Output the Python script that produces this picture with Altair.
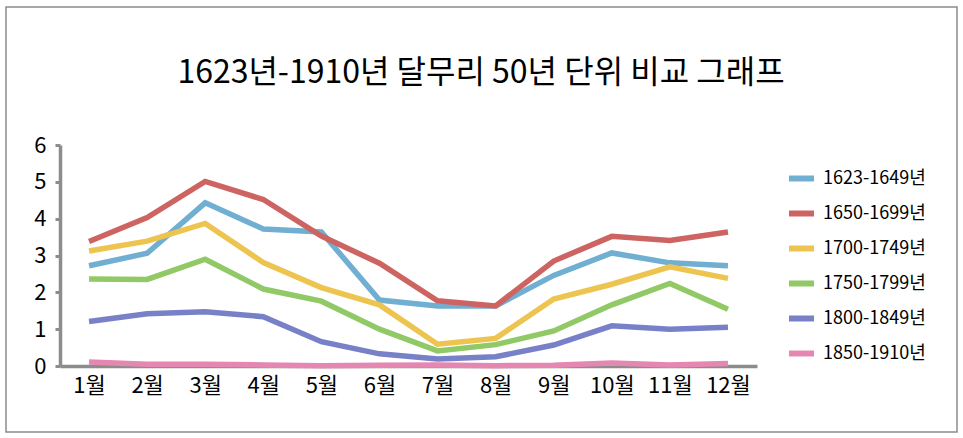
import altair as alt
import pandas as pd

months = ["1월", "2월", "3월", "4월", "5월", "6월", "7월", "8월", "9월", "10월", "11월", "12월"]
series = ["1623-1649년", "1650-1699년", "1700-1749년", "1750-1799년", "1800-1849년", "1850-1910년"]
colors = ["#70AFD2", "#CE6462", "#EDC450", "#90C965", "#7880C8", "#E687B1"]
title_text = "1623년-1910년 달무리 50년 단위 비교 그래프"

s1623 = [2.72, 3.06, 4.43, 3.72, 3.64, 1.79, 1.63, 1.63, 2.46, 3.07, 2.80, 2.72]
s1650 = [3.38, 4.03, 5.01, 4.52, 3.53, 2.79, 1.77, 1.63, 2.85, 3.52, 3.41, 3.64]
s1700 = [3.12, 3.39, 3.87, 2.81, 2.13, 1.66, 0.59, 0.75, 1.82, 2.22, 2.69, 2.38]
s1750 = [2.36, 2.35, 2.90, 2.09, 1.76, 1.00, 0.41, 0.58, 0.95, 1.66, 2.24, 1.54]
s1800 = [1.21, 1.42, 1.47, 1.34, 0.66, 0.33, 0.19, 0.25, 0.57, 1.09, 1.00, 1.05]
s1850 = [0.11, 0.05, 0.05, 0.03, 0.01, 0.02, 0.03, 0.01, 0.02, 0.08, 0.03, 0.07]

values = [s1623, s1650, s1700, s1750, s1800, s1850]
rows = []
for name, vals in zip(series, values):
    for m, v in zip(months, vals):
        rows.append({"series": name, "month": m, "value": v})
df = pd.DataFrame(rows)

FONT = "Noto Sans CJK KR"

lines = alt.Chart(df).mark_line(strokeWidth=5.5, strokeJoin="miter").encode(
    x=alt.X("month:N", sort=months,
            scale=alt.Scale(type="point", padding=0.5),
            axis=alt.Axis(title=None, labelAngle=0, ticks=False, labelPadding=9,
                          labelFontSize=22, labelColor="#000000", labelFont=FONT,
                          domainColor="#8C8C8C", domainWidth=3.5)),
    y=alt.Y("value:Q", scale=alt.Scale(domain=[0, 6], nice=False),
            axis=alt.Axis(title=None, values=[0, 1, 2, 3, 4, 5, 6], grid=False,
                          tickSize=5, tickWidth=3, tickColor="#8C8C8C",
                          labelPadding=9, labelFontSize=22, labelColor="#000000",
                          labelFont=FONT, domainColor="#8C8C8C", domainWidth=3.5)),
    color=alt.Color("series:N", sort=series,
                    scale=alt.Scale(domain=series, range=colors),
                    legend=alt.Legend(title=None, orient="none", legendX=726, legendY=18,
                                      symbolType="stroke", symbolSize=625,
                                      symbolStrokeWidth=6, labelFontSize=18,
                                      labelFont=FONT, labelColor="#000000",
                                      labelOffset=6, rowPadding=7)),
    order=alt.value(0),
)

border = alt.Chart(pd.DataFrame({"k": [0]})).mark_rect(
    fill=None, stroke="#8C8C8C", strokeWidth=1.5
).encode(
    x=alt.value(-54), x2=alt.value(897), y=alt.value(-138), y2=alt.value(287)
)

title = alt.Chart(pd.DataFrame({"t": [title_text]})).mark_text(
    font=FONT, fontSize=32, color="#000000", align="center", baseline="alphabetic"
).encode(
    text="t:N", x=alt.value(421), y=alt.value(-62)
)

chart = alt.layer(border, title, lines).properties(
    width=697, height=221,
    padding={"left": 60, "top": 145, "right": 206, "bottom": 72},
    autosize=alt.AutoSizeParams(type="none"),
    background="#FFFFFF",
).configure_view(stroke=None)

chart.save("out.html", embed_options={"renderer": "svg", "actions": False})
